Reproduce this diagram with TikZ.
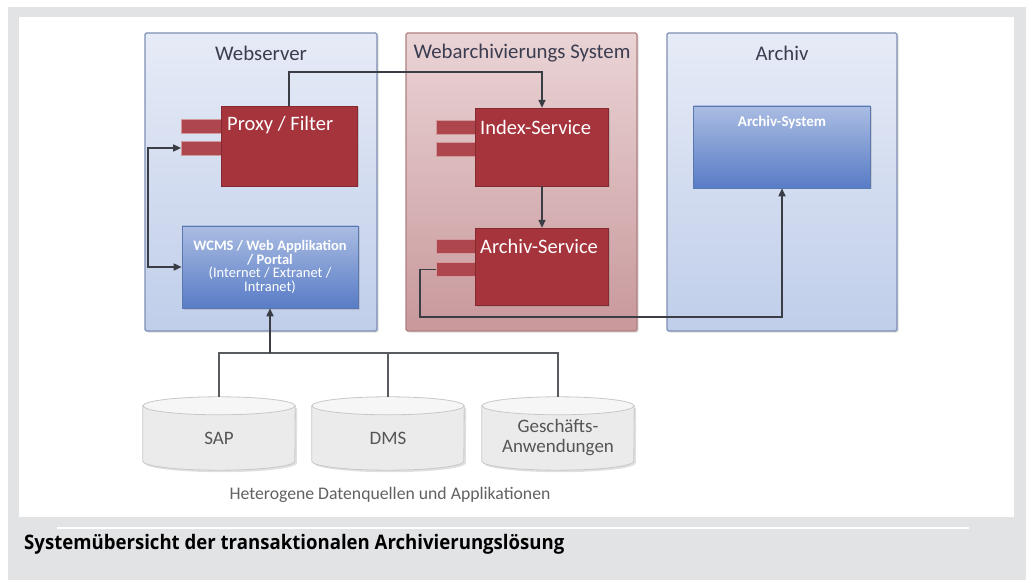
\documentclass[tikz,border=0pt]{standalone}
\usepackage{fontspec}
\setmainfont{Carlito}
\newfontfamily\capfont{Open Sans}
\usetikzlibrary{arrows.meta,shadows,calc}
\definecolor{bgray}{HTML}{E2E3E5}
\definecolor{lineC}{HTML}{3A3E44}
\definecolor{redboxC}{HTML}{A6343C}
\definecolor{redtabC}{HTML}{AE464D}
\definecolor{titleC}{HTML}{3A3C50}
\definecolor{cylC}{HTML}{555555}
\definecolor{bgrpDraw}{RGB}{127,143,180}
\definecolor{bgrpTop}{RGB}{230,235,246}
\definecolor{bgrpBot}{RGB}{192,206,234}
\definecolor{rgrpDraw}{RGB}{176,128,130}
\definecolor{rgrpTop}{RGB}{234,212,214}
\definecolor{rgrpBot}{RGB}{200,152,155}
\definecolor{bboxDraw}{RGB}{90,120,176}
\definecolor{bboxTop}{RGB}{170,188,226}
\definecolor{bboxBot}{RGB}{88,124,198}
\definecolor{cylBody}{HTML}{EBEBEB}
\definecolor{cylTop}{HTML}{F6F6F6}
\definecolor{cylDraw}{HTML}{C8C8C8}
\newcommand\mycyl[1]{%
  \fill[black, opacity=0.12] ($(#1.north west)+(2,11)$) -- ($(#1.south west)+(2,-7)$)
     arc[start angle=180, end angle=0, x radius=76, y radius=9] -- ($(#1.north east)+(2,11)$) -- cycle;
  \draw[cylDraw, line width=0.8pt, fill=cylBody] ($(#1.north west)+(0,9)$) -- ($(#1.south west)+(0,-9)$)
     arc[start angle=180, end angle=0, x radius=76, y radius=9] -- ($(#1.north east)+(0,9)$) -- cycle;
  \draw[cylDraw, line width=0.8pt, fill=cylTop] ($(#1.north)+(0,9)$) ellipse[x radius=76, y radius=9];
}
\begin{document}
\begin{tikzpicture}[x=1pt,y=-1pt,
  grp/.style={line width=1.2pt, rounded corners=1.5pt, inner sep=0pt,
     drop shadow={shadow xshift=1.5pt,shadow yshift=-1.5pt,opacity=0.25}},
  bluegrp/.style={grp, draw=bgrpDraw, top color=bgrpTop, bottom color=bgrpBot},
  redgrp/.style={grp, draw=rgrpDraw, top color=rgrpTop, bottom color=rgrpBot},
  redbox/.style={fill=redboxC, draw=redboxC!80!black, line width=0.4pt, inner sep=0pt,
     drop shadow={shadow xshift=1.5pt,shadow yshift=-1.5pt,opacity=0.3}},
  redtab/.style={fill=redtabC, draw=redtabC!55!white, line width=0.7pt, inner sep=0pt, minimum width=40pt, minimum height=14pt},
  bluebox/.style={draw=bboxDraw, line width=0.6pt, top color=bboxTop, bottom color=bboxBot, inner sep=0pt,
     drop shadow={shadow xshift=1.5pt,shadow yshift=-1.5pt,opacity=0.25}},
  gtitle/.style={text=titleC, font=\fontsize{20.8}{22}\selectfont, inner sep=0pt},
  rtitle/.style={text=white, font=\fontsize{20.5}{22}\selectfont, inner sep=0pt, anchor=west},
  conn/.style={draw=lineC, line width=1.6pt, -{Triangle[length=8pt,width=7pt]}},
  conn2/.style={draw=lineC, line width=1.6pt, {Triangle[length=8pt,width=7pt]}-{Triangle[length=8pt,width=7pt]}},
  bus/.style={draw=lineC!85!white, line width=1.6pt},
  cylbox/.style={minimum width=152pt, minimum height=73pt, inner sep=0pt, text=cylC,
     font=\fontsize{19}{20}\selectfont, align=center}
]
\useasboundingbox (0,0) rectangle (1026,580);
\fill[white] (0,0) rectangle (1026,580);
\fill[bgray] (8,7) rectangle (1026,580);
\fill[white] (19,17) rectangle (1014,517);
\draw[white, line width=1.2pt] (57,528) -- (969,528);

% groups
\node[bluegrp, minimum width=232pt, minimum height=298pt] (ws) at (261,182) {};
\node[redgrp, minimum width=231pt, minimum height=298pt] (wa) at (521.5,182) {};
\node[bluegrp, minimum width=230pt, minimum height=298pt] (ar) at (782,182) {};

\node[gtitle] (wst) at (261,53) {Webserver};
\node[gtitle] (wat) at (522,53) {Webarchivierungs System};
\node[gtitle] (art) at (782,53) {Archiv};

% red boxes
\node[redtab] (pt1) at (201.5,126) {};
\node[redtab] (pt2) at (201.5,148) {};
\node[redbox, minimum width=136pt, minimum height=80pt] (proxy) at (289,146) {};
\node[rtitle] (proxyt) at (227,125) {Proxy / Filter};

\node[redtab] (it1) at (456,127) {};
\node[redtab] (it2) at (456,149.5) {};
\node[redbox, minimum width=133pt, minimum height=78pt] (index) at (542,147) {};
\node[rtitle] (indext) at (480,127) {Index-Service};

\node[redtab] (at1) at (456,246.5) {};
\node[redtab] (at2) at (456,269.5) {};
\node[redbox, minimum width=133pt, minimum height=77pt] (asvc) at (542,266.5) {};
\node[rtitle] (asvct) at (480,246) {Archiv-Service};

% blue boxes
\node[bluebox, minimum width=176pt, minimum height=82pt,
  text=white, align=center, font=\fontsize{14.5}{13.8}\selectfont] (wcms) at (270,267)
  {\textbf{WCMS / Web Applikation}\\\textbf{/ Portal}\\(Internet / Extranet /\\Intranet)};

\node[bluebox, minimum width=177pt, minimum height=82pt] (asys) at (782,147) {};
\node[text=white, font=\bfseries\fontsize{15}{16}\selectfont, inner sep=0pt] (asyst) at (782,122) {Archiv-System};

% connectors
\coordinate (c1) at (542,72);
\draw[conn] (proxy.north) |- (c1) -- (index.north);
\draw[conn] (index.south) -- (asvc.north);
\coordinate (c2) at (148,148);
\draw[conn2] (pt2.west) -- (c2) |- (wcms.west);
\coordinate (c3) at (420,269.5);
\coordinate (c4) at (420,317);
\draw[conn] (at2.west) -- (c3) -- (c4) -| (asys.south);

% data sources
\node[cylbox] (sap) at (219,433.5) {};
\node[cylbox] (dms) at (388,433.5) {};
\node[cylbox] (ga) at (558,433.5) {};
\mycyl{sap}\mycyl{dms}\mycyl{ga}
\node[text=cylC, font=\fontsize{19}{20}\selectfont, inner sep=0pt] (sapt) at (219,438) {SAP};
\node[text=cylC, font=\fontsize{19}{20}\selectfont, inner sep=0pt] (dmst) at (388,438) {DMS};
\node[text=cylC, font=\fontsize{19}{20}\selectfont, inner sep=0pt, align=center] (gat) at (558,438) {Geschäfts-\\Anwendungen};
\coordinate (bus) at (270,353);
\draw[bus] (sap.north) |- (bus) -| (ga.north);
\draw[bus] (dms.north) -- (dms.north |- bus);
\draw[conn] (bus) -- (wcms.south);

\node[text=black!62, font=\fontsize{17.7}{20}\selectfont, inner sep=0pt] (het) at (390,495) {Heterogene Datenquellen und Applikationen};

\node[anchor=west, inner sep=0pt, font=\capfont\bfseries\fontsize{20}{24}\selectfont] (cap) at (24,544) {\scalebox{0.93}[1]{Systemübersicht der transaktionalen Archivierungslösung}};
\end{tikzpicture}
\end{document}
